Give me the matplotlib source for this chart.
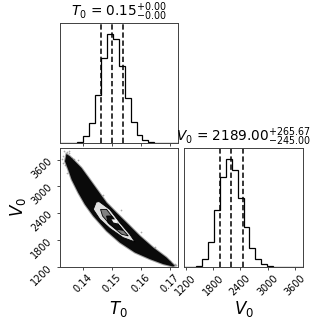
import numpy as np
import matplotlib
matplotlib.use('Agg')
import matplotlib.pyplot as plt

# histogram heights, 20 bins each
t0_counts = [0, 0, 0, 3, 20, 60, 143, 253, 325, 310, 228, 133, 63, 23, 8, 2, 0, 0, 0, 0]
v0_counts = [0, 0, 4, 24, 76, 172, 271, 324, 292, 207, 119, 58, 24, 8, 3, 1, 0, 0, 0, 0]

t0_lines = [0.1463, 0.15, 0.1539]
v0_lines = [1944, 2189, 2454.67]

t0_ticks = [0.14, 0.15, 0.16, 0.17]
t0_ticklabels = ['0.14', '0.15', '0.16', '0.17']
v0_ticks = [1200, 1800, 2400, 3000, 3600]

# outline of the dark band in the joint panel
band_t0 = [0.1342, 0.1354, 0.1377, 0.1394, 0.1423, 0.1452, 0.1481, 0.1515, 0.1550, 0.1596, 0.1642, 0.1688, 0.1717,
           0.1711, 0.1677, 0.1631, 0.1579, 0.1527, 0.1481, 0.1435, 0.1406, 0.1383, 0.1360, 0.1348, 0.1337]
band_v0 = [3726, 3674, 3526, 3414, 3154, 2894, 2634, 2411, 2188, 1891, 1631, 1408, 1222,
           1205, 1259, 1371, 1519, 1742, 2002, 2337, 2597, 2857, 3154, 3377, 3563]

# contours, outer to inner
c1_t0 = [0.1435, 0.1445, 0.1455, 0.1492, 0.1527, 0.1561, 0.1579, 0.1538, 0.1492, 0.1458]
c1_v0 = [2485, 2649, 2660, 2485, 2188, 1928, 1757, 1854, 2062, 2262]
c2_t0 = [0.1460, 0.1481, 0.1521, 0.1556, 0.1533, 0.1492, 0.1467]
c2_v0 = [2485, 2485, 2151, 1891, 1928, 2151, 2337]
c3_t0 = [0.1481, 0.1498, 0.1538, 0.1515, 0.1486]
c3_v0 = [2337, 2337, 2017, 2040, 2188]
c4_t0 = [0.1498, 0.1515, 0.1521, 0.1505]
c4_v0 = [2262, 2262, 2170, 2190]

# stray samples around the band
stray_t0 = [0.1326, 0.1334, 0.1340, 0.1352, 0.1362, 0.1372, 0.1338, 0.1346, 0.1345, 0.1412, 0.1470,
            0.1530, 0.1600, 0.1650, 0.1700, 0.1718, 0.1722, 0.1600, 0.1520, 0.1420,
            0.1330, 0.1344, 0.1350, 0.1368, 0.1330, 0.1381]
stray_v0 = [3620, 3800, 3700, 3790, 3640, 3500, 3480, 3620, 3300, 3220, 2810,
            2480, 1980, 1640, 1330, 1270, 1230, 1760, 1900, 2570,
            3520, 3770, 3740, 3610, 3690, 3600]

t0_lim = (0.1318, 0.1728)
v0_xlim = (1163, 3776)
v0_ylim = (1195, 3860)

fig = plt.figure(figsize=(3.27, 3.27), dpi=100)
W = 327.0


def make_ax(x0, x1, y0, y1):
    return fig.add_axes([x0 / W, 1 - y1 / W, (x1 - x0) / W, (y1 - y0) / W])


ax_top = make_ax(59.5, 178, 23, 143)
ax_joint = make_ax(59.5, 178, 148, 267)
ax_right = make_ax(184, 303, 148, 267)

t0_edges = np.linspace(t0_lim[0], t0_lim[1], 21)
v0_edges = np.linspace(v0_xlim[0], v0_xlim[1], 21)

ax_top.stairs(t0_counts, t0_edges, color='k', lw=0.9)
ax_top.set_xlim(t0_lim)
ax_top.set_ylim(0, 1.1 * max(t0_counts))
ax_top.set_yticks([])
ax_top.set_xticks(t0_ticks)
ax_top.set_xticklabels([])
for v in t0_lines:
    ax_top.axvline(v, color='k', ls='--', lw=1.1, dashes=(3.5, 1.8))
ax_top.set_title(r'$T_0$ = $0.15_{-0.00}^{+0.00}$', fontsize=9.8, pad=-1.5)

ax_right.stairs(v0_counts, v0_edges, color='k', lw=0.9)
ax_right.set_xlim(v0_xlim)
ax_right.set_ylim(0, 1.1 * max(v0_counts))
ax_right.set_yticks([])
ax_right.set_xticks(v0_ticks)
ax_right.set_xticklabels([str(v) for v in v0_ticks], rotation=45, fontsize=7)
for v in v0_lines:
    ax_right.axvline(v, color='k', ls='--', lw=1.1, dashes=(3.5, 1.8))
ax_right.set_title(r'$V_0$ = $2189.00_{-245.00}^{+265.67}$', fontsize=9.8, pad=-1.5)
ax_right.set_xlabel(r'$V_0$', fontsize=12)
ax_right.xaxis.set_label_coords(0.5, -0.27)

ax_joint.scatter(stray_t0, stray_v0, s=1.5, color='0.45', alpha=0.6, lw=0, zorder=1)
ax_joint.fill(band_t0, band_v0, facecolor='none', edgecolor='0.4', alpha=0.6, lw=1.5, zorder=1)
ax_joint.fill(band_t0, band_v0, facecolor='#0a0a0a', edgecolor='none', zorder=2)
ax_joint.fill(c1_t0, c1_v0, facecolor='0.88', edgecolor='k', lw=0.6, zorder=3)
ax_joint.fill(c2_t0, c2_v0, facecolor='0.5', edgecolor='k', lw=0.6, zorder=4)
ax_joint.fill(c3_t0, c3_v0, facecolor='0.05', edgecolor='k', lw=0.6, zorder=5)
ax_joint.fill(c4_t0, c4_v0, facecolor='0.95', edgecolor='none', zorder=6)
ax_joint.set_xlim(t0_lim)
ax_joint.set_ylim(v0_ylim)
ax_joint.set_xticks(t0_ticks)
ax_joint.set_xticklabels(t0_ticklabels, rotation=45, fontsize=7)
ax_joint.set_yticks(v0_ticks)
ax_joint.set_yticklabels([str(v) for v in v0_ticks], rotation=45, fontsize=7)
ax_joint.set_xlabel(r'$T_0$', fontsize=12)
ax_joint.xaxis.set_label_coords(0.5, -0.27)
ax_joint.set_ylabel(r'$V_0$', fontsize=12)
ax_joint.yaxis.set_label_coords(-0.27, 0.5)

for ax in [ax_top, ax_joint, ax_right]:
    ax.tick_params(length=2, width=0.5, pad=2)
    for s in ax.spines.values():
        s.set_linewidth(0.7)
        s.set_color('0.25')

fig.savefig('out.png', dpi=100)
